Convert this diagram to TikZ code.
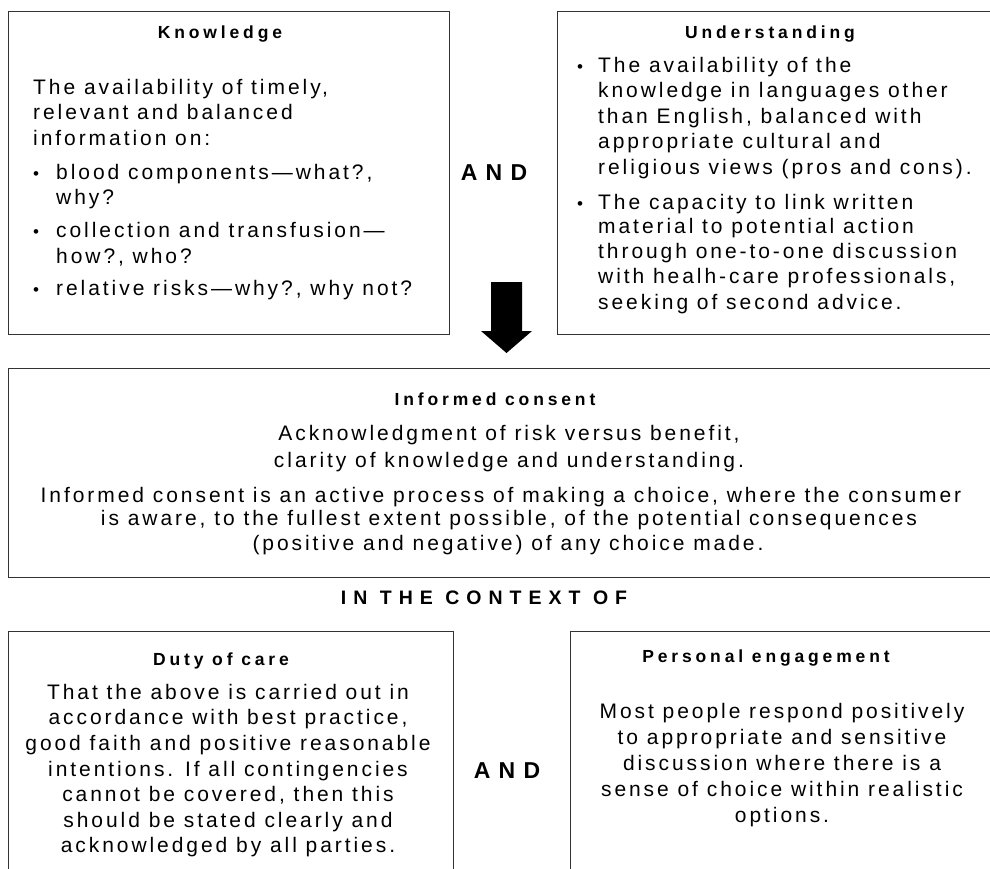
\documentclass[tikz,border=0pt]{standalone}
\usepackage{fontspec}
\newfontfamily\bodyfont{Liberation Sans}[LetterSpace=14]
\newfontfamily\headfont{Liberation Sans}[LetterSpace=22]
\newfontfamily\andfont{Liberation Sans}[LetterSpace=36]
\tikzset{
  panel/.style={draw=black!80, line width=1.2pt, anchor=north west, inner sep=0pt},
  body/.style={font=\bodyfont\fontsize{21}{25}\selectfont, inner sep=0pt},
  dot/.style={font=\bodyfont\fontsize{17}{20}\selectfont, inner sep=0pt},
  head/.style={font=\headfont\bfseries\fontsize{17.5}{21}\selectfont, inner sep=0pt},
  joiner/.style={font=\andfont\bfseries\fontsize{23}{27}\selectfont, inner sep=0pt},
  context/.style={font=\andfont\bfseries\fontsize{19.5}{23}\selectfont, inner sep=0pt}
}
\begin{document}
\begin{tikzpicture}[x=1pt, y=-1pt]
\useasboundingbox (0,0) rectangle (990,868);
\node[panel, minimum width=441pt, minimum height=323pt] (know) at (8,11) {};
\node[panel, minimum width=440pt, minimum height=323pt] (under) at (557,11) {};
\node[panel, minimum width=990pt, minimum height=209pt] (consent) at (8,368) {};
\node[panel, minimum width=445pt, minimum height=250pt] (duty) at (8,631) {};
\node[panel, minimum width=430pt, minimum height=250pt] (engage) at (570,631) {};

\fill (491,282) -- (522,282) -- (522,331) -- (532,331) -- (506.5,353)
  -- (481,331) -- (491,331) -- cycle;

\node[head, anchor=base] (know-title) at (220,38) {Knowledge};
\foreach \y/\t [count=\i] in {94/{The availability of timely,},
  119/{relevant and balanced}, 145/{information on:}}
  \node[body, anchor=base west] (know-\i) at (33,\y) {\t};
\foreach \y/\t [count=\i] in {179/{blood components—what?,}, 204/{why?},
  237/{collection and transfusion—}, 263/{how?, who?},
  295/{relative risks—why?, why not?}}
  \node[body, anchor=base west] (know-item-\i) at (56,\y) {\t};
\foreach \y [count=\i] in {179,237,295}
  \node[dot, anchor=base west] (know-dot-\i) at (33,\y) {•};

\node[joiner, anchor=base] (and-top) at (494,180) {AND};

\node[head, anchor=base] (under-title) at (770,38) {Understanding};
\foreach \y/\t [count=\i] in {72/{The availability of the},
  97/{knowledge in languages other}, 123/{than English, balanced with},
  148/{appropriate cultural and}, 174/{religious views (pros and cons).},
  209/{The capacity to link written}, 233/{material to potential action},
  258/{through one-to-one discussion}, 283/{with healh-care professionals,},
  309/{seeking of second advice.}}
  \node[body, anchor=base west] (under-\i) at (598,\y) {\t};
\foreach \y [count=\i] in {72,209}
  \node[dot, anchor=base west] (under-dot-\i) at (577,\y) {•};

\node[head, anchor=base] (consent-title) at (495,405) {Informed consent};
\foreach \x/\y/\t [count=\i] in {509/440/{Acknowledgment of risk versus benefit,},
  509/467/{clarity of knowledge and understanding.},
  501/502/{Informed consent is an active process of making a choice, where the consumer},
  509/525/{is aware, to the fullest extent possible, of the potential consequences},
  508/550/{(positive and negative) of any choice made.}}
  \node[body, anchor=base] (consent-\i) at (\x,\y) {\t};

\node[context, anchor=base] (context) at (484,604) {IN THE CONTEXT OF};

\node[head, anchor=base] (duty-title) at (221,665) {Duty of care};
\foreach \y/\t [count=\i] in {699/{That the above is carried out in},
  724/{accordance with best practice,}, 750/{good faith and positive reasonable},
  776/{intentions. If all contingencies}, 801/{cannot be covered, then this},
  827/{should be stated clearly and}, 852/{acknowledged by all parties.}}
  \node[body, anchor=base] (duty-\i) at (228,\y) {\t};

\node[joiner, anchor=base] (and-bottom) at (507,778) {AND};

\node[head, anchor=base] (engage-title) at (766,662) {Personal engagement};
\foreach \y/\t [count=\i] in {718/{Most people respond positively},
  744/{to appropriate and sensitive}, 770/{discussion where there is a},
  796/{sense of choice within realistic}, 822/{options.}}
  \node[body, anchor=base] (engage-\i) at (782,\y) {\t};
\end{tikzpicture}
\end{document}
